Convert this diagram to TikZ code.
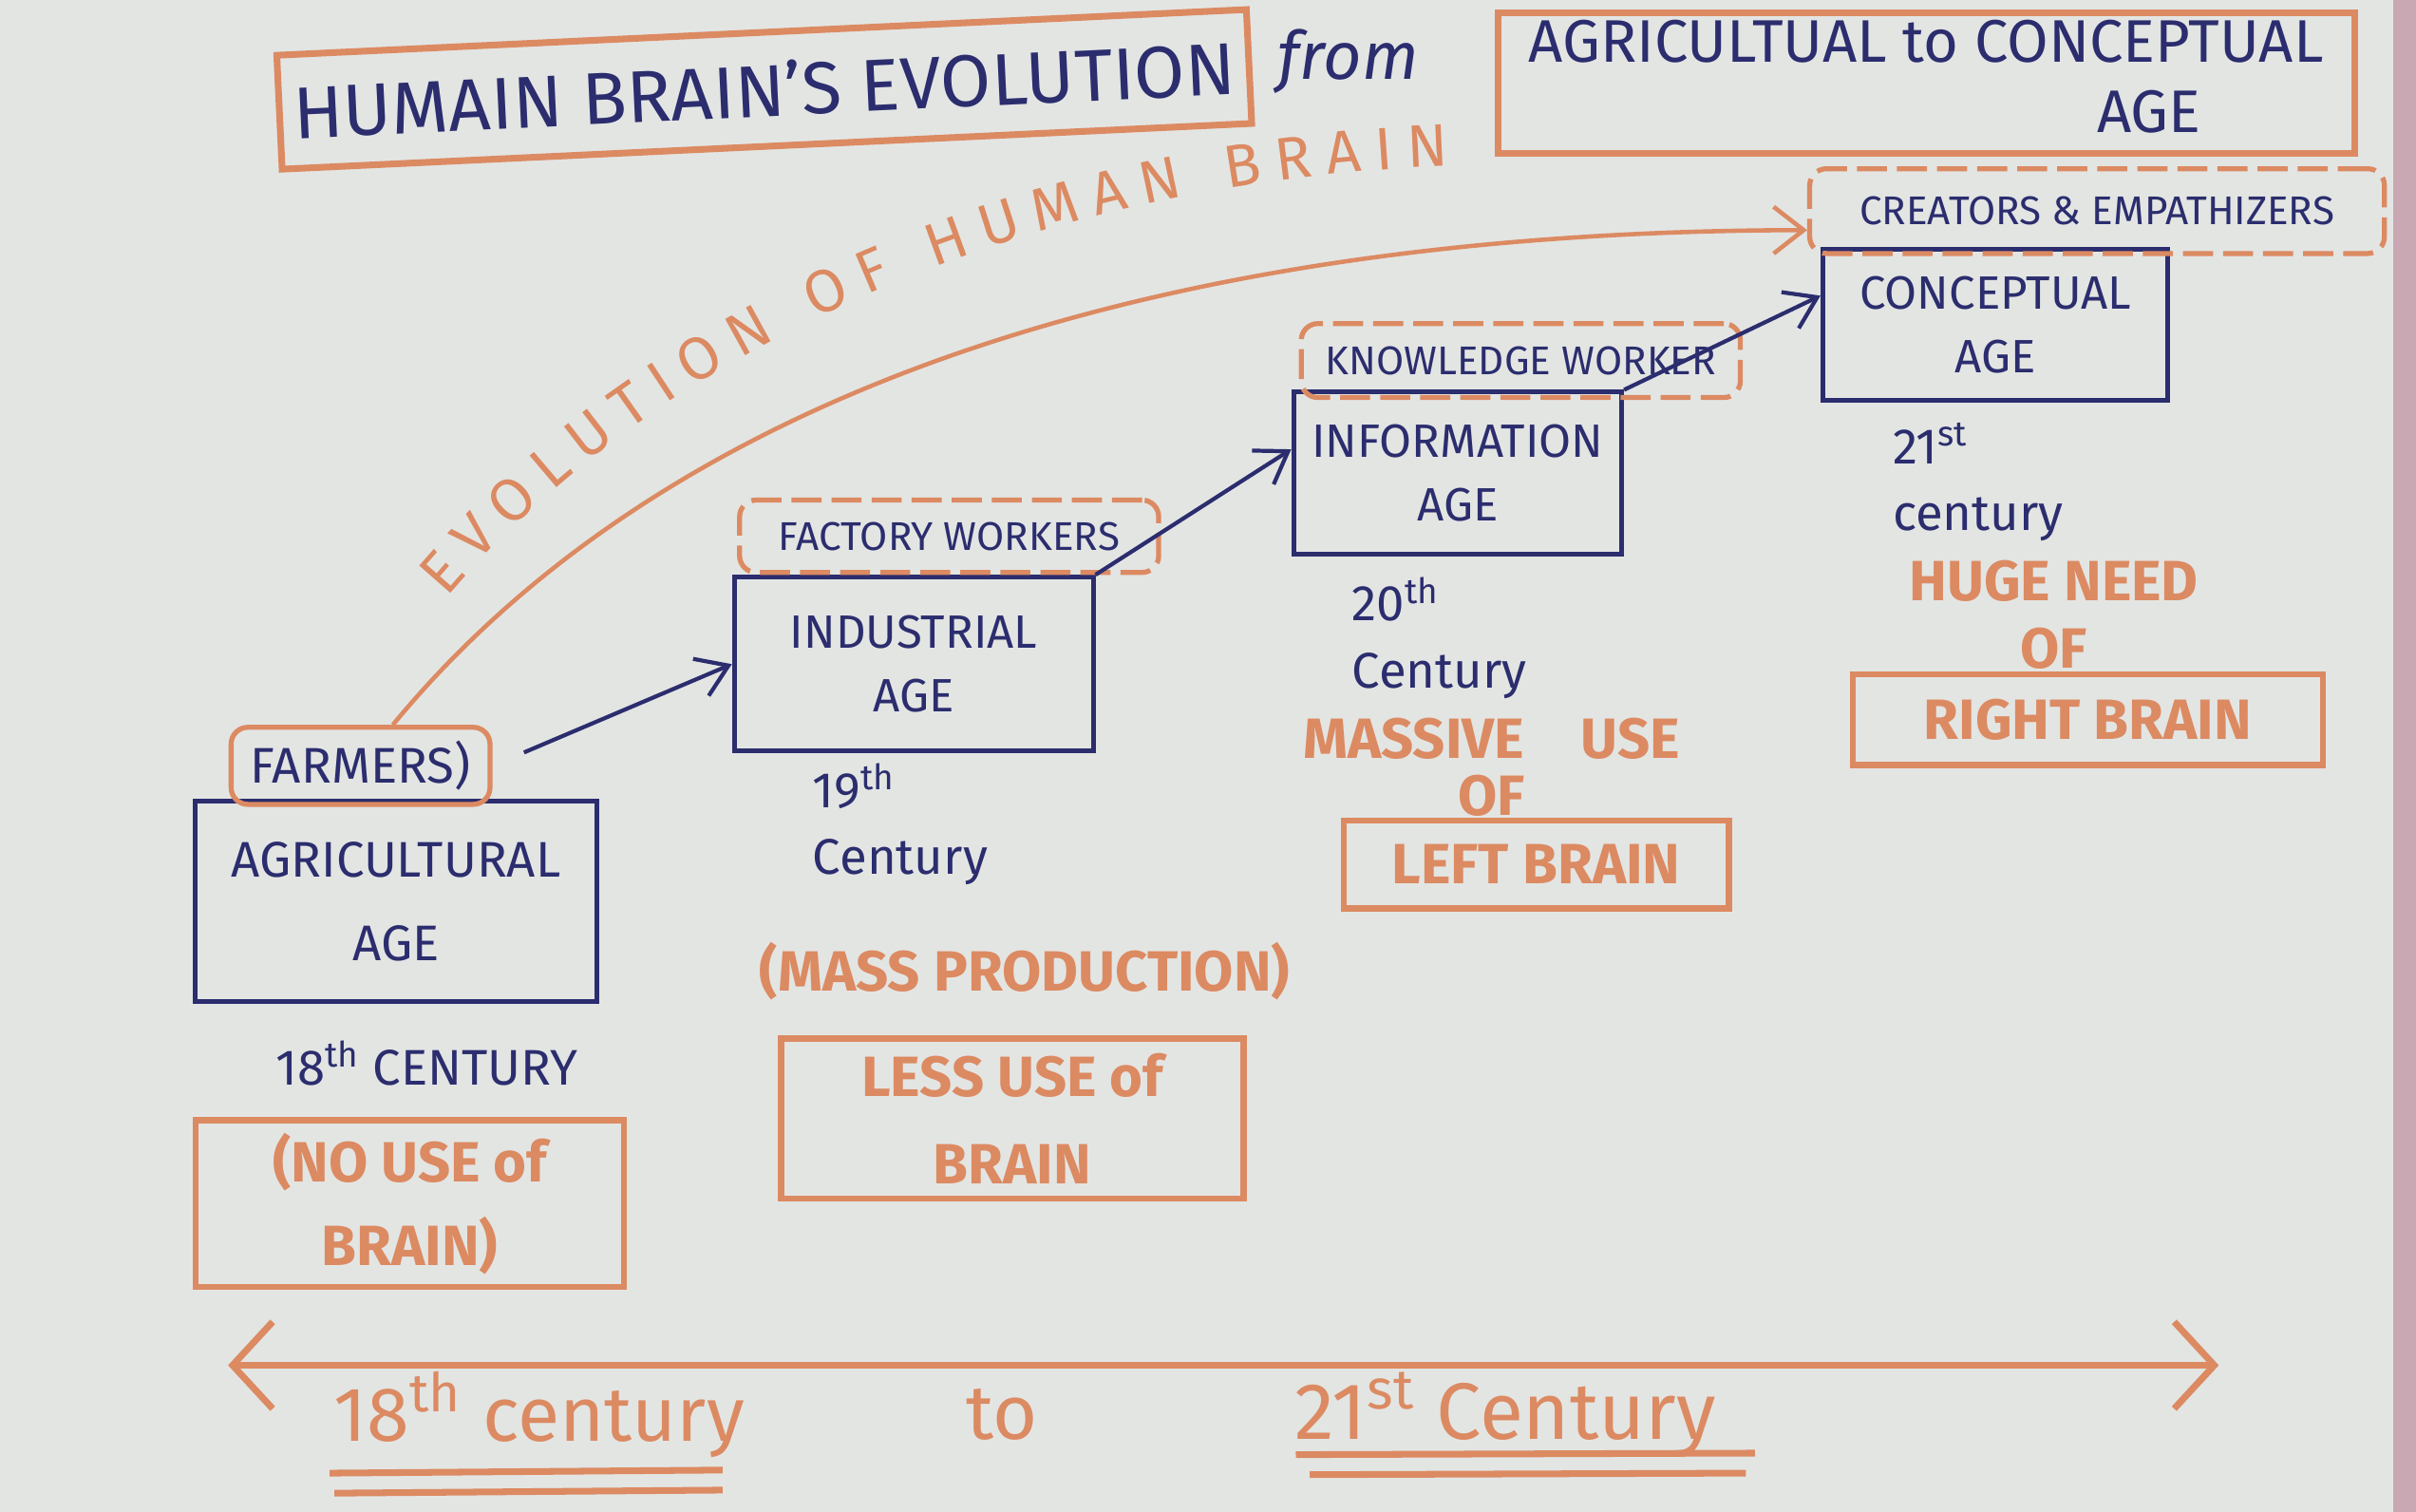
\documentclass[tikz,border=0pt]{standalone}
\usepackage{fontspec}
\setmainfont{Fira Sans}
\usetikzlibrary{arrows.meta,decorations.text}
\definecolor{paper}{HTML}{E3E5E3}
\definecolor{fabric}{HTML}{C9A7B3}
\definecolor{ink}{HTML}{2B2D6E}
\definecolor{marker}{HTML}{DC8A62}
\newcommand\pxu{0.016224cm}
\tikzset{
  titlebox/.style={draw=marker, line width=2pt, text=ink, inner sep=0pt},
  agebox/.style={draw=ink, line width=1.4pt, text=ink, align=center, inner sep=0pt,
    font=\fontsize{14}{19}\selectfont},
  rolebox/.style={draw=marker, line width=1.5pt, dash pattern=on 9pt off 3pt,
    rounded corners=5pt, text=ink, inner sep=0pt, font=\fontsize{12}{14}\selectfont},
  brainbox/.style={draw=marker, line width=1.8pt, text=marker, align=center, inner sep=0pt,
    font=\bfseries\fontsize{17}{20}\selectfont},
  inknote/.style={text=ink, align=left, inner sep=0pt, font=\fontsize{15}{20}\selectfont},
  markernote/.style={text=marker, align=center, inner sep=0pt,
    font=\bfseries\fontsize{17}{17}\selectfont},
  stepline/.style={draw=ink, line width=1.2pt, -{Straight Barb[length=9pt,width=12pt]}},
  timeline/.style={draw=marker, line width=2pt,
    {Straight Barb[length=12pt,width=26pt]}-{Straight Barb[length=12pt,width=26pt]}},
}
\begin{document}
\begin{tikzpicture}[x=\pxu, y=-\pxu]
\fill[paper] (0,0) rectangle (1568,981);
\fill[fabric] (1553,0) rectangle (1568,981);
\useasboundingbox (0,0) rectangle (1568,981);

% title
\node[titlebox, rotate=2.7, minimum width=630*\pxu, minimum height=74*\pxu,
  font=\fontsize{22}{26}\selectfont] (title1) at (496,58) {HUMAIN BRAIN'S EVOLUTION};
\node[text=ink, font=\itshape\fontsize{20}{24}\selectfont] (from) at (875,40) {from};
\node[titlebox, minimum width=556*\pxu, minimum height=82*\pxu,
  font=\fontsize{18}{21}\selectfont] (title2) at (1250,54)
  {\begin{tabular}{@{}l@{\ }c@{}}AGRICULTUAL to & CONCEPTUAL\\ & AGE\end{tabular}};

% ages
\node[agebox, minimum width=261*\pxu, minimum height=130*\pxu,
  font=\fontsize{15}{25}\selectfont] (age0) at (257,585) {AGRICULTURAL\\AGE};
\node[agebox, minimum width=233*\pxu, minimum height=113*\pxu] (age1) at (593,431) {INDUSTRIAL\\AGE};
\node[agebox, minimum width=213*\pxu, minimum height=105*\pxu] (age2) at (946,307) {INFORMATION\\AGE};
\node[agebox, minimum width=224*\pxu, minimum height=98*\pxu] (age3) at (1295,211) {CONCEPTUAL\\AGE};

% workers
\node[rolebox, dash pattern=, minimum width=168*\pxu, minimum height=50*\pxu,
  font=\fontsize{15}{18}\selectfont] (role0) at (234,497) {FARMERS)};
\node[rolebox, minimum width=272*\pxu, minimum height=47*\pxu] (role1) at (616,348) {FACTORY WORKERS};
\node[rolebox, minimum width=285*\pxu, minimum height=48*\pxu] (role2) at (987,234) {KNOWLEDGE WORKER};
\node[rolebox, minimum width=373*\pxu, minimum height=55*\pxu] (role3) at (1361,137) {CREATORS \& EMPATHIZERS};

% steps
\draw[stepline, shorten <=0.36cm] (role0.east) -- (age1.west);
\draw[stepline] (age1.north east) -- ([yshift=0.25cm]age2.west);
\draw[stepline] (age2.north east) -- ([yshift=0.31cm]age3.west);

% evolution arc
\draw[marker, line width=1.3pt, -{Straight Barb[length=9pt,width=14pt]}]
  ([xshift=0.34cm]role0.north) .. controls (420,270) and (720,150) .. ([yshift=-0.2cm]role3.west);
\path[decorate, decoration={text along path, text color=marker,
  text={|\fontsize{18}{22}\selectfont|EVOLUTION OF HUMAN BRAIN}, text align={fit to path}}]
  (290,388) .. controls (438,213) and (690,116) .. (940,108);

% centuries
\node[inknote] (cent0) at (277,690) {18\textsuperscript{th} CENTURY};
\node[inknote, anchor=west] (cent1) at (527,535) {19\textsuperscript{th}\\Century};
\node[inknote, anchor=west] (cent2) at (877,414) {20\textsuperscript{th}\\Century};
\node[inknote, anchor=west] (cent3) at (1228,313) {21\textsuperscript{st}\\century};

% use of brain
\node[brainbox, minimum width=278*\pxu, minimum height=108*\pxu,
  font=\bfseries\fontsize{17}{25}\selectfont] (brain0) at (266,781) {(NO USE of\\BRAIN)};
\node[markernote] (note1) at (665,630) {(MASS PRODUCTION)};
\node[brainbox, minimum width=300*\pxu, minimum height=104*\pxu,
  font=\bfseries\fontsize{17}{26}\selectfont] (brain1) at (657,726) {LESS USE of\\BRAIN};
\node[markernote] (note2) at (968,498) {MASSIVE\quad USE\\OF};
\node[brainbox, minimum width=250*\pxu, minimum height=57*\pxu] (brain2) at (997,561) {LEFT BRAIN};
\node[markernote, font=\bfseries\fontsize{17}{20}\selectfont] (note3) at (1333,399) {HUGE NEED\\OF};
\node[brainbox, minimum width=305*\pxu, minimum height=59*\pxu] (brain3) at (1355,467) {RIGHT BRAIN};

% time line
\coordinate (tl0) at (148,886);
\coordinate (tl1) at (1440,886);
\draw[timeline] (tl0) -- (tl1);
\node[text=marker, font=\fontsize{23}{26}\selectfont] (span0) at (350,918) {18\textsuperscript{th} century};
\node[text=marker, font=\fontsize{23}{26}\selectfont] (span1) at (650,918) {to};
\node[text=marker, font=\fontsize{24}{26}\selectfont] (span2) at (977,918) {21\textsuperscript{st} Century};
\draw[marker, line width=2pt] (214,956) -- (469,954) (217,969) -- (469,967);
\draw[marker, line width=2pt] (841,944) -- (1139,943) (850,957) -- (1133,956);

\end{tikzpicture}
\end{document}
